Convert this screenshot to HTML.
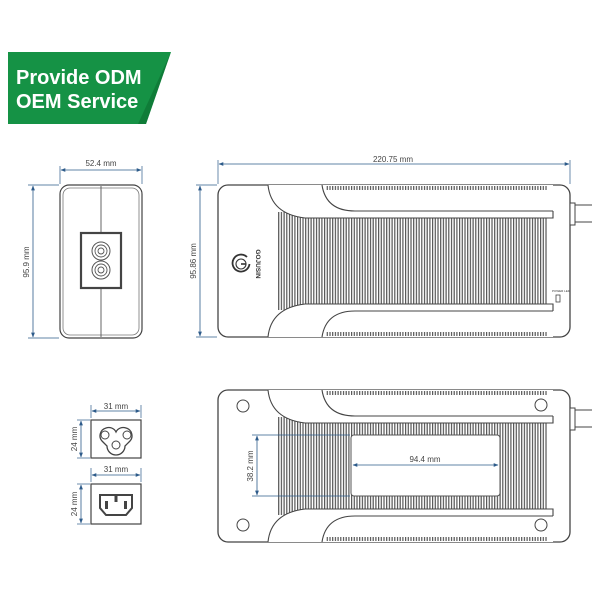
<!DOCTYPE html>
<html><head><meta charset="utf-8"><style>
html,body{margin:0;padding:0;background:#fff;}
svg{display:block;}
text{font-family:"Liberation Sans",sans-serif;}
</style></head><body>
<svg width="600" height="600" viewBox="0 0 600 600" xmlns="http://www.w3.org/2000/svg">
<defs>
<pattern id="fin" width="2.7" height="10" patternUnits="userSpaceOnUse">
<rect x="0" y="0" width="1.2" height="10" fill="#555"/>
</pattern>
<marker id="ar" viewBox="0 0 10 10" refX="9" refY="5" markerWidth="6" markerHeight="6" orient="auto-start-reverse">
<path d="M0,1 L10,5 L0,9 z" fill="#2d5b8a"/>
</marker>
<g id="body">
<rect x="218" y="185" width="352" height="152" rx="10" fill="#fff" stroke="#444" stroke-width="1.3"/>
<rect x="277" y="212" width="271" height="98" fill="url(#fin)"/>
<path d="M268,185 Q271,214 305,218 H553 V185 Z" fill="#fff"/>
<path d="M268,337 Q271,308 305,304 H553 V337 Z" fill="#fff"/>
<path d="M268,185 Q271,214 305,218 H553 V211" fill="none" stroke="#444" stroke-width="1.1"/>
<path d="M268,337 Q271,308 305,304 H553 V311" fill="none" stroke="#444" stroke-width="1.1"/>
<path d="M322,185 Q326,211 355,211 H553" fill="none" stroke="#444" stroke-width="1.1"/>
<path d="M322,337 Q326,311 355,311 H553" fill="none" stroke="#444" stroke-width="1.1"/>
<rect x="326" y="186" width="221" height="4" fill="url(#fin)"/>
<rect x="326" y="332" width="221" height="4" fill="url(#fin)"/>
<rect x="570" y="203" width="5" height="22" fill="#fff" stroke="#444" stroke-width="1"/>
<line x1="575" y1="205" x2="592" y2="205" stroke="#444" stroke-width="1"/>
<line x1="575" y1="222" x2="592" y2="222" stroke="#444" stroke-width="1"/>
</g>
</defs>

<!-- Banner -->
<path d="M8,52 H171 L146,124 H8 Z" fill="#159245"/>
<path d="M171,52 L146,124 H138 Z" fill="#0c6e31" opacity="0.6"/>
<text x="16" y="84" font-size="20" font-weight="bold" fill="#fff">Provide ODM</text>
<text x="16" y="108" font-size="20" font-weight="bold" fill="#fff">OEM Service</text>

<!-- Front view -->
<rect x="60" y="185" width="82" height="153" rx="9" fill="#fff" stroke="#444" stroke-width="1.2"/>
<rect x="63" y="188" width="76" height="147" rx="7" fill="none" stroke="#777" stroke-width="0.8"/>
<line x1="101" y1="186" x2="101" y2="337" stroke="#555" stroke-width="0.9"/>
<rect x="81" y="233" width="40" height="55" fill="#fff" stroke="#444" stroke-width="2.2"/>
<circle cx="101" cy="251" r="9" fill="#fff" stroke="#555" stroke-width="1"/>
<circle cx="101" cy="270" r="9" fill="#fff" stroke="#555" stroke-width="1"/>
<circle cx="101" cy="251" r="6" fill="none" stroke="#555" stroke-width="0.9"/>
<circle cx="101" cy="270" r="6" fill="none" stroke="#555" stroke-width="0.9"/>
<circle cx="101" cy="251" r="3" fill="none" stroke="#555" stroke-width="0.9"/>
<circle cx="101" cy="270" r="3" fill="none" stroke="#555" stroke-width="0.9"/>
<line x1="60" y1="166" x2="60" y2="184" stroke="#2d5b8a" stroke-width="0.7"/>
<line x1="142" y1="166" x2="142" y2="184" stroke="#2d5b8a" stroke-width="0.7"/>
<line x1="61" y1="170" x2="141" y2="170" stroke="#2d5b8a" stroke-width="0.8" marker-start="url(#ar)" marker-end="url(#ar)"/>
<text x="101" y="166" font-size="8" fill="#444" text-anchor="middle">52.4 mm</text>
<line x1="28" y1="185" x2="59" y2="185" stroke="#2d5b8a" stroke-width="0.7"/>
<line x1="28" y1="338" x2="59" y2="338" stroke="#2d5b8a" stroke-width="0.7"/>
<line x1="33" y1="186" x2="33" y2="337" stroke="#2d5b8a" stroke-width="0.8" marker-start="url(#ar)" marker-end="url(#ar)"/>
<text transform="translate(29,262) rotate(-90)" font-size="8" fill="#444" text-anchor="middle">95.9 mm</text>

<!-- Top view -->
<use href="#body"/>
<path d="M247,257 A8.5,8.5 0 1 0 249.5,264" fill="none" stroke="#333" stroke-width="1.8"/>
<path d="M241,264 H246" fill="none" stroke="#333" stroke-width="1.6"/>
<circle cx="241" cy="264" r="5" fill="none" stroke="#333" stroke-width="1.1"/>
<text transform="translate(256,264) rotate(90)" font-size="6.5" font-weight="bold" fill="#333" text-anchor="middle">GOJUSIN</text>
<text x="552" y="292" font-size="3" fill="#333">POWER LED</text>
<rect x="556" y="295" width="4" height="7" fill="none" stroke="#444" stroke-width="0.8"/>
<line x1="218" y1="160" x2="218" y2="184" stroke="#2d5b8a" stroke-width="0.7"/>
<line x1="570" y1="160" x2="570" y2="184" stroke="#2d5b8a" stroke-width="0.7"/>
<line x1="219" y1="164" x2="569" y2="164" stroke="#2d5b8a" stroke-width="0.8" marker-start="url(#ar)" marker-end="url(#ar)"/>
<text x="393" y="162" font-size="8" fill="#444" text-anchor="middle">220.75 mm</text>
<line x1="196" y1="185" x2="217" y2="185" stroke="#2d5b8a" stroke-width="0.7"/>
<line x1="196" y1="337" x2="217" y2="337" stroke="#2d5b8a" stroke-width="0.7"/>
<line x1="200" y1="186" x2="200" y2="336" stroke="#2d5b8a" stroke-width="0.8" marker-start="url(#ar)" marker-end="url(#ar)"/>
<text transform="translate(196,261) rotate(-90)" font-size="8" fill="#444" text-anchor="middle">95.86 mm</text>

<!-- Bottom view -->
<use href="#body" transform="translate(0,205)"/>
<circle cx="243" cy="406" r="6" fill="#fff" stroke="#444" stroke-width="1"/>
<circle cx="541" cy="405" r="6" fill="#fff" stroke="#444" stroke-width="1"/>
<circle cx="243" cy="525" r="6" fill="#fff" stroke="#444" stroke-width="1"/>
<circle cx="541" cy="525" r="6" fill="#fff" stroke="#444" stroke-width="1"/>
<rect x="351" y="435" width="149" height="61" rx="3" fill="#fff" stroke="#555" stroke-width="1"/>
<line x1="252" y1="435" x2="350" y2="435" stroke="#2d5b8a" stroke-width="0.7"/>
<line x1="252" y1="496" x2="350" y2="496" stroke="#2d5b8a" stroke-width="0.7"/>
<line x1="257" y1="436" x2="257" y2="495" stroke="#2d5b8a" stroke-width="0.8" marker-start="url(#ar)" marker-end="url(#ar)"/>
<text transform="translate(253,466) rotate(-90)" font-size="8" fill="#444" text-anchor="middle">38.2 mm</text>
<line x1="353" y1="465" x2="498" y2="465" stroke="#2d5b8a" stroke-width="0.8" marker-start="url(#ar)" marker-end="url(#ar)"/>
<text x="425" y="462" font-size="8" fill="#444" text-anchor="middle">94.4 mm</text>

<!-- C5 connector -->
<rect x="91" y="420" width="50" height="38" fill="#fff" stroke="#444" stroke-width="1.2"/>
<path d="M106,428 a8,8 0 0 1 10,4 a8,8 0 0 1 10,-4 a8,8 0 0 1 4,13 l-5,5 a8,8 0 0 1 -18,0 l-5,-5 a8,8 0 0 1 4,-13 z" fill="none" stroke="#444" stroke-width="1.3"/>
<circle cx="105" cy="435" r="4" fill="none" stroke="#444" stroke-width="1"/>
<circle cx="127" cy="435" r="4" fill="none" stroke="#444" stroke-width="1"/>
<circle cx="116" cy="445" r="4" fill="none" stroke="#444" stroke-width="1"/>
<line x1="91" y1="405" x2="91" y2="418" stroke="#2d5b8a" stroke-width="0.7"/>
<line x1="141" y1="405" x2="141" y2="418" stroke="#2d5b8a" stroke-width="0.7"/>
<line x1="92" y1="411" x2="140" y2="411" stroke="#2d5b8a" stroke-width="0.8" marker-start="url(#ar)" marker-end="url(#ar)"/>
<text x="116" y="409" font-size="8" fill="#444" text-anchor="middle">31 mm</text>
<line x1="77" y1="420" x2="90" y2="420" stroke="#2d5b8a" stroke-width="0.7"/>
<line x1="77" y1="458" x2="90" y2="458" stroke="#2d5b8a" stroke-width="0.7"/>
<line x1="81" y1="421" x2="81" y2="457" stroke="#2d5b8a" stroke-width="0.8" marker-start="url(#ar)" marker-end="url(#ar)"/>
<text transform="translate(77,439) rotate(-90)" font-size="8" fill="#444" text-anchor="middle">24 mm</text>

<!-- C13 connector -->
<rect x="91" y="484" width="50" height="40" fill="#fff" stroke="#444" stroke-width="1.2"/>
<path d="M100,495 H132 V508 L126,515 H106 L100,508 Z" fill="none" stroke="#444" stroke-width="2"/>
<rect x="105" y="501" width="3" height="8" fill="#444"/>
<rect x="124" y="501" width="3" height="8" fill="#444"/>
<rect x="114.5" y="495" width="3" height="7" fill="#444"/>
<line x1="91" y1="468" x2="91" y2="482" stroke="#2d5b8a" stroke-width="0.7"/>
<line x1="141" y1="468" x2="141" y2="482" stroke="#2d5b8a" stroke-width="0.7"/>
<line x1="92" y1="475" x2="140" y2="475" stroke="#2d5b8a" stroke-width="0.8" marker-start="url(#ar)" marker-end="url(#ar)"/>
<text x="116" y="472" font-size="8" fill="#444" text-anchor="middle">31 mm</text>
<line x1="77" y1="484" x2="90" y2="484" stroke="#2d5b8a" stroke-width="0.7"/>
<line x1="77" y1="524" x2="90" y2="524" stroke="#2d5b8a" stroke-width="0.7"/>
<line x1="81" y1="485" x2="81" y2="523" stroke="#2d5b8a" stroke-width="0.8" marker-start="url(#ar)" marker-end="url(#ar)"/>
<text transform="translate(77,504) rotate(-90)" font-size="8" fill="#444" text-anchor="middle">24 mm</text>
</svg>
</body></html>
